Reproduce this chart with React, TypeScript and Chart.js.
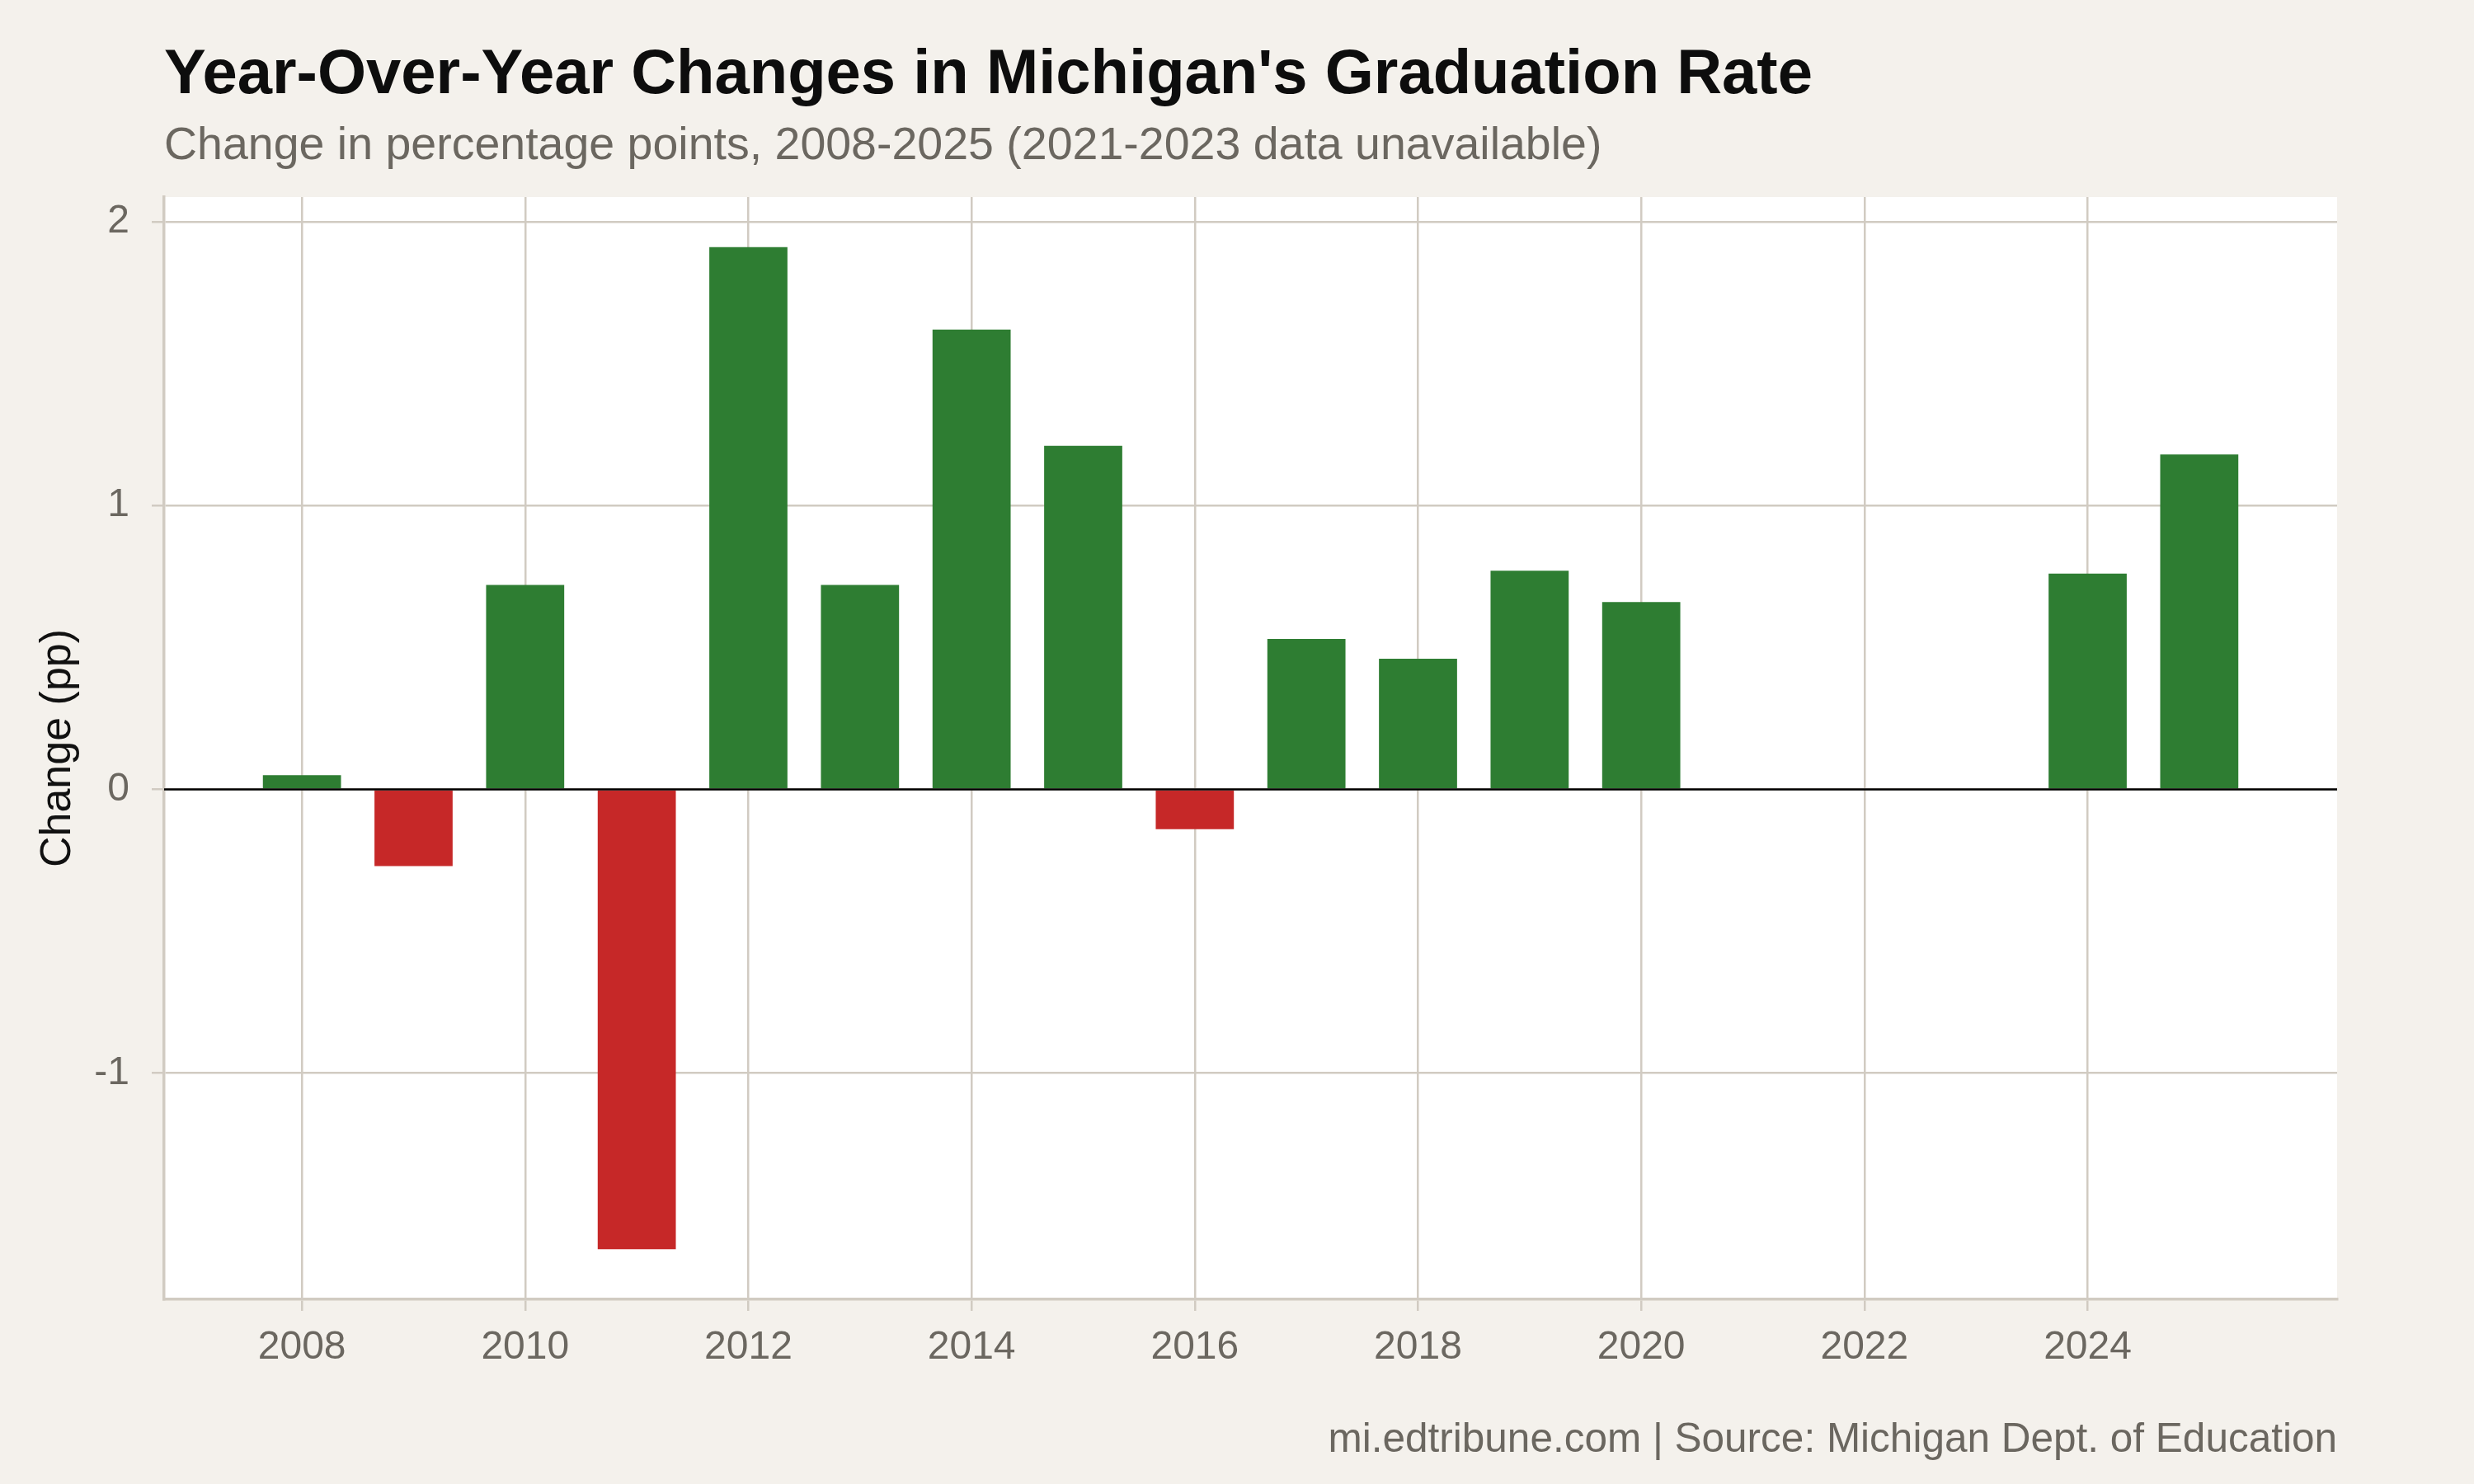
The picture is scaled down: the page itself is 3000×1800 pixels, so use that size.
import { useEffect, useRef } from "react";
import { Chart, registerables } from "chart.js";

Chart.register(...registerables);

// Year-over-year change in Michigan's graduation rate (percentage points).
// 2021-2023 have no data, so those years are simply absent.
const years = [2008, 2009, 2010, 2011, 2012, 2013, 2014, 2015, 2016, 2017, 2018, 2019, 2020, 2024, 2025];
const changes = [0.05, -0.27, 0.72, -1.62, 1.91, 0.72, 1.62, 1.21, -0.14, 0.53, 0.46, 0.77, 0.66, 0.76, 1.18];

const xTickValues = [2008, 2010, 2012, 2014, 2016, 2018, 2020, 2022, 2024];
const yTickValues = [-1, 0, 1, 2];

const TITLE = "Year-Over-Year Changes in Michigan's Graduation Rate";
const SUBTITLE = "Change in percentage points, 2008-2025 (2021-2023 data unavailable)";
const CAPTION = "mi.edtribune.com | Source: Michigan Dept. of Education";
const Y_TITLE = "Change (pp)";

const FONT = "'Liberation Sans', Arial, Helvetica, sans-serif";
const PAGE_BG = "#f4f1ec";
const PANEL_BG = "#ffffff";
const GRID = "#d1cbc2";
const MUTED = "#6b6760";
const GAIN = "#2e7d32";
const LOSS = "#c62828";

const W = 3000;
const H = 1800;

// Bars are 0.7 years wide; both axes get a 5% expansion around the data.
const BAR_FRACTION = 0.7;
const xLo = Math.min(...years) - BAR_FRACTION / 2;
const xHi = Math.max(...years) + BAR_FRACTION / 2;
const xPad = (xHi - xLo) * 0.05;
const yLo = Math.min(0, ...changes);
const yHi = Math.max(0, ...changes);
const yPad = (yHi - yLo) * 0.05;

const decorations = {
  id: "decorations",
  beforeDraw(chart: any) {
    const { ctx, chartArea } = chart;
    ctx.save();
    ctx.fillStyle = PAGE_BG;
    ctx.fillRect(0, 0, chart.width, chart.height);
    ctx.fillStyle = PANEL_BG;
    ctx.fillRect(chartArea.left, chartArea.top, chartArea.right - chartArea.left, chartArea.bottom - chartArea.top);
    ctx.restore();
  },
  afterDatasetsDraw(chart: any) {
    const { ctx, chartArea } = chart;
    const y0 = chart.scales.y.getPixelForValue(0);
    ctx.save();
    ctx.strokeStyle = "#000000";
    ctx.lineWidth = 2.5;
    ctx.beginPath();
    ctx.moveTo(chartArea.left, y0);
    ctx.lineTo(chartArea.right, y0);
    ctx.stroke();
    ctx.restore();
  },
  afterDraw(chart: any) {
    const { ctx, chartArea } = chart;
    ctx.save();
    ctx.textBaseline = "alphabetic";
    ctx.textAlign = "left";
    ctx.fillStyle = "#0d0d0d";
    ctx.font = `bold 76px ${FONT}`;
    ctx.fillText(TITLE, chartArea.left, 113);
    ctx.fillStyle = MUTED;
    ctx.font = `55.5px ${FONT}`;
    ctx.fillText(SUBTITLE, chartArea.left, 193);
    ctx.textAlign = "right";
    ctx.font = `49.5px ${FONT}`;
    ctx.fillText(CAPTION, chartArea.right, 1761);
    ctx.restore();
  },
};

export default function App() {
  const canvasRef = useRef<HTMLCanvasElement | null>(null);

  useEffect(() => {
    const canvas = canvasRef.current;
    if (!canvas) return;
    Chart.defaults.font.family = FONT;

    const chart = new Chart(canvas, {
      type: "bar",
      data: {
        datasets: [
          {
            label: "Change (pp)",
            data: years.map((yr, i) => ({ x: yr, y: changes[i] })),
            backgroundColor: (c: any) => ((c.raw && c.raw.y < 0) ? LOSS : GAIN),
            borderWidth: 0,
            categoryPercentage: 1,
            barPercentage: BAR_FRACTION,
          },
        ],
      },
      options: {
        responsive: false,
        animation: false,
        devicePixelRatio: 1,
        layout: { padding: { top: 239, right: 166, bottom: 0, left: 0 } },
        plugins: {
          legend: { display: false },
          tooltip: { enabled: false },
          title: { display: false },
        },
        scales: {
          x: {
            type: "linear",
            offset: false,
            min: xLo - xPad,
            max: xHi + xPad,
            afterBuildTicks: (scale: any) => {
              scale.ticks = xTickValues.map((v) => ({ value: v }));
            },
            afterFit: (scale: any) => {
              scale.height = 224;
            },
            grid: {
              offset: false,
              color: GRID,
              lineWidth: 2.5,
              drawTicks: true,
              tickLength: 14,
            },
            border: { display: true, color: GRID, width: 3.5 },
            ticks: {
              autoSkip: false,
              maxRotation: 0,
              padding: 16,
              color: MUTED,
              font: { size: 48, family: FONT },
              callback: (v: any) => String(v),
            },
          },
          y: {
            type: "linear",
            min: yLo - yPad,
            max: yHi + yPad,
            afterBuildTicks: (scale: any) => {
              scale.ticks = yTickValues.map((v) => ({ value: v }));
            },
            afterFit: (scale: any) => {
              scale.width = 199;
            },
            grid: {
              color: GRID,
              lineWidth: 2.5,
              drawTicks: true,
              tickLength: 15,
            },
            border: { display: true, color: GRID, width: 3.5 },
            ticks: {
              padding: 27,
              color: MUTED,
              font: { size: 48, family: FONT },
              callback: (v: any) => String(v),
            },
            title: {
              display: true,
              text: Y_TITLE,
              color: "#111111",
              font: { size: 52, family: FONT },
              padding: { top: 39, bottom: 0 },
            },
          },
        },
      },
      plugins: [decorations],
    });

    return () => chart.destroy();
  }, []);

  return (
    <div style={{ position: "absolute", left: 0, top: 0, width: W, height: H, background: PAGE_BG }}>
      <canvas ref={canvasRef} width={W} height={H} style={{ width: W, height: H, display: "block" }} />
    </div>
  );
}
